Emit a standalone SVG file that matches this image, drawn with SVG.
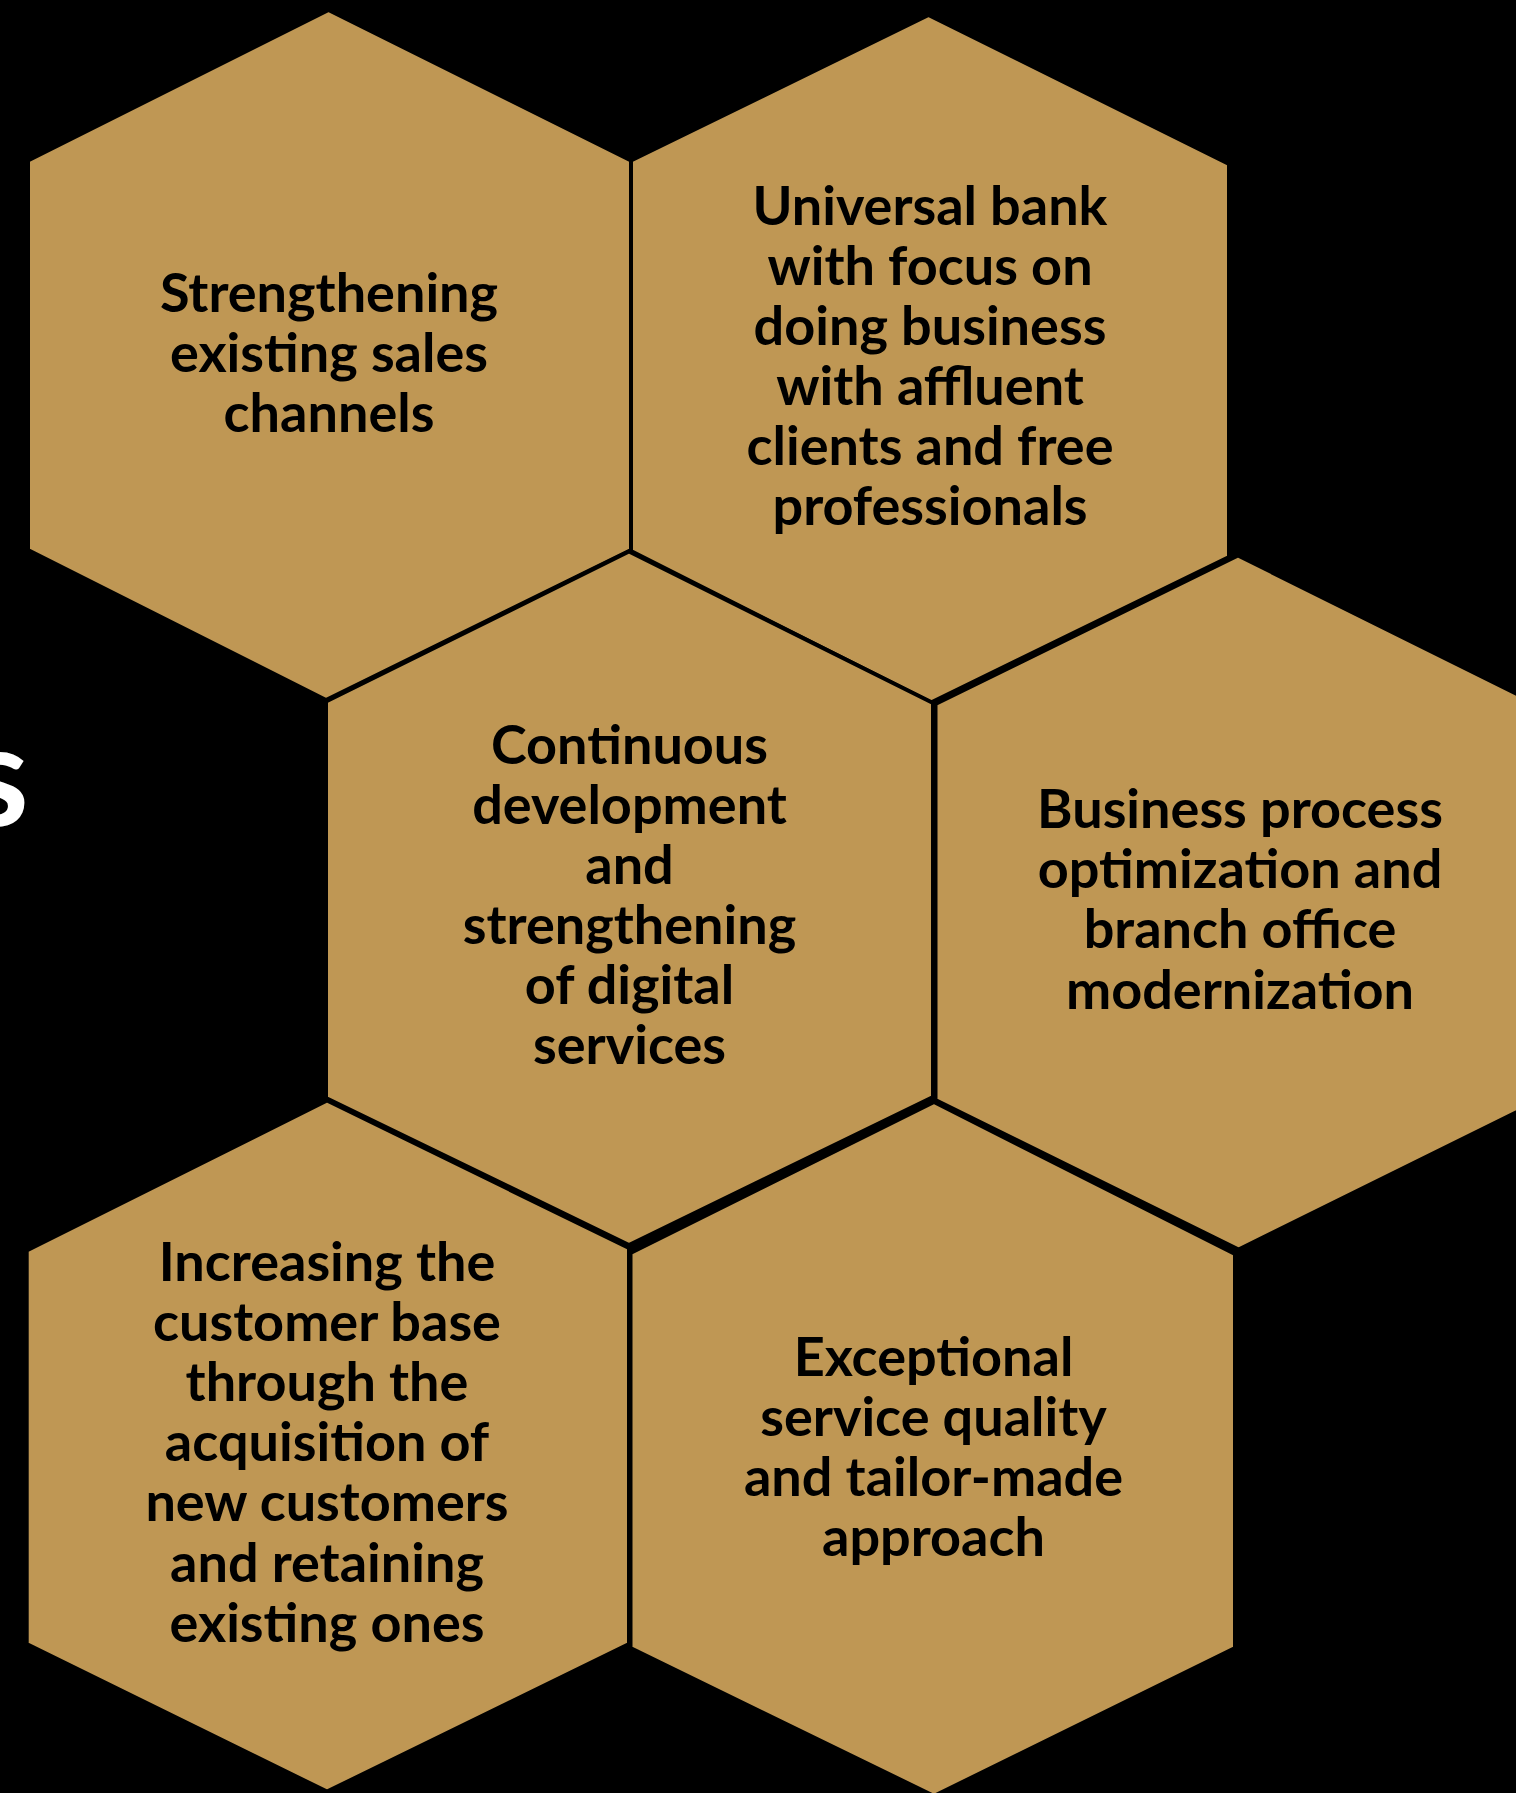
<svg xmlns="http://www.w3.org/2000/svg" width="1516" height="1793" viewBox="0 0 1516 1793">
<style>
.hex{fill:#BF9754;stroke:#000;stroke-width:4;stroke-linejoin:miter}
.lbl{font-family:Lato,"Liberation Sans",sans-serif;font-weight:700;font-size:54px;fill:#000;text-anchor:middle}
.title{font-family:Lato,"Liberation Sans",sans-serif;font-weight:700;font-size:142px;fill:#fff;text-anchor:end}
</style>
<rect x="0" y="0" width="1516" height="1793" fill="#000"/>
<text class="title" x="29" y="826">s</text>
<g id="connectors"></g>
<g id="hex1">
<polygon class="hex" points="328.5,10 631,160.5 631,550 326,700 28,550 28,160.5"/>
<text class="lbl" x="329" y="312">Strengthening</text>
<text class="lbl" x="329" y="372">existing sales</text>
<text class="lbl" x="329" y="432">channels</text>
</g>
<g id="hex2">
<polygon class="hex" points="928.5,15 1229,164 1229,557 931,702.5 631,551 631,160.5"/>
<text class="lbl" x="930" y="225">Universal bank</text>
<text class="lbl" x="930" y="285">with focus on</text>
<text class="lbl" x="930" y="345">doing business</text>
<text class="lbl" x="930" y="405">with affluent</text>
<text class="lbl" x="930" y="465">clients and free</text>
<text class="lbl" x="930" y="525">professionals</text>
</g>
<g id="hex3">
<polygon class="hex" points="629,551.5 933,703 933,1097 629,1245 326,1098 326,701.5"/>
<text class="lbl" x="629.5" y="764">Continuous</text>
<text class="lbl" x="629.5" y="824">development</text>
<text class="lbl" x="629.5" y="884">and</text>
<text class="lbl" x="629.5" y="944">strengthening</text>
<text class="lbl" x="629.5" y="1004">of digital</text>
<text class="lbl" x="629.5" y="1064">services</text>
</g>
<g id="hex4">
<polygon class="hex" points="1238,555.5 1541,706 1541,1100 1238.6,1249.5 935.5,1100 935.5,704"/>
<text class="lbl" x="1240" y="828">Business process</text>
<text class="lbl" x="1240" y="888">optimization and</text>
<text class="lbl" x="1240" y="948">branch office</text>
<text class="lbl" x="1240" y="1009">modernization</text>
</g>
<g id="hex5">
<polygon class="hex" points="327,1100.5 629,1248 629,1644 327,1791.6 26.7,1644 26.7,1250.5"/>
<text class="lbl" x="327" y="1281">Increasing the</text>
<text class="lbl" x="327" y="1341">customer base</text>
<text class="lbl" x="327" y="1401">through the</text>
<text class="lbl" x="327" y="1461">acquisition of</text>
<text class="lbl" x="327" y="1521">new customers</text>
<text class="lbl" x="327" y="1582">and retaining</text>
<text class="lbl" x="327" y="1642">existing ones</text>
</g>
<g id="hex6">
<polygon class="hex" points="934,1102 1235,1254 1235,1648 934,1796 630.5,1648 630.5,1253"/>
<text class="lbl" x="933.5" y="1376">Exceptional</text>
<text class="lbl" x="933.5" y="1436">service quality</text>
<text class="lbl" x="933.5" y="1496">and tailor-made</text>
<text class="lbl" x="933.5" y="1556">approach</text>
</g>
</svg>
